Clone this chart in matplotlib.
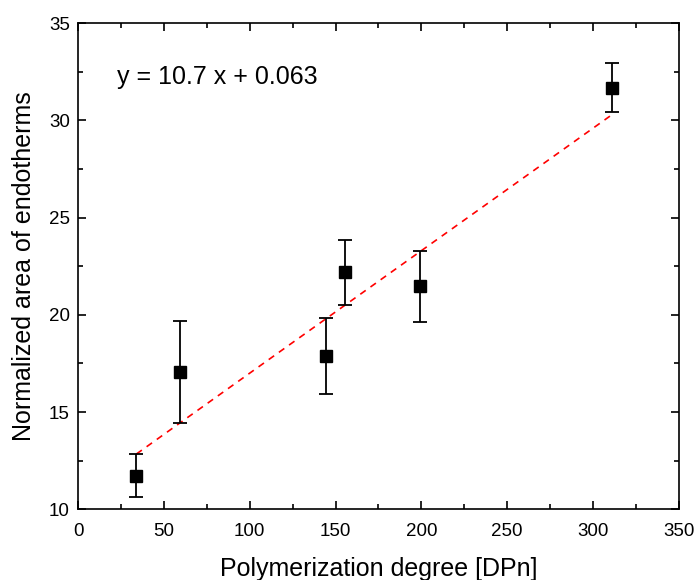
import matplotlib
matplotlib.use("Agg")
import matplotlib.pyplot as plt
import numpy as np
from matplotlib.ticker import MultipleLocator

plt.rcParams['font.family'] = ['Liberation Sans', 'DejaVu Sans']

dpn = [34, 59.5, 144.5, 155.3, 199.3, 311.3]
area = [11.72, 17.07, 17.88, 22.2, 21.47, 31.69]
err_low = [10.65, 14.45, 15.93, 20.53, 19.65, 30.44]
err_high = [12.84, 19.67, 19.83, 23.86, 23.29, 32.96]
fit_intercept = 10.7
fit_slope = 0.063
fit_label = "y = 10.7 x + 0.063"

fig = plt.figure(figsize=(6.97, 5.80), dpi=100)
ax = fig.add_axes([0.112, 0.122, 0.862, 0.838])

x = np.array(dpn)
y = np.array(area)
yerr = [y - np.array(err_low), np.array(err_high) - y]
ax.errorbar(x, y, yerr=yerr, fmt='s', color='black', markersize=8.5,
            ecolor='black', elinewidth=1.3, capsize=5, capthick=1.3, zorder=3)

xf = np.array([x.min(), x.max()])
ax.plot(xf, fit_intercept + fit_slope * xf, color='red', linestyle=(0, (4, 3.5)),
        linewidth=1.2, zorder=2)

ax.text(22.8, 32.25, fit_label, fontsize=18, va='center', ha='left')

ax.set_xlim(0, 350)
ax.set_ylim(10, 35)
ax.xaxis.set_major_locator(MultipleLocator(50))
ax.xaxis.set_minor_locator(MultipleLocator(25))
ax.yaxis.set_major_locator(MultipleLocator(5))
ax.yaxis.set_minor_locator(MultipleLocator(2.5))
ax.tick_params(which='both', direction='in', top=True, right=True, width=1.2,
               labelsize=13.5)
ax.tick_params(axis='x', which='major', pad=10)
ax.tick_params(axis='y', which='major', pad=6)
ax.tick_params(which='major', length=6)
ax.tick_params(which='minor', length=3.5)
for s in ax.spines.values():
    s.set_linewidth(1.2)

ax.set_xlabel("Polymerization degree [DPn]", fontsize=18, labelpad=12)
ax.set_ylabel("Normalized area of endotherms", fontsize=18, labelpad=9)

fig.savefig("out.png", dpi=100)
